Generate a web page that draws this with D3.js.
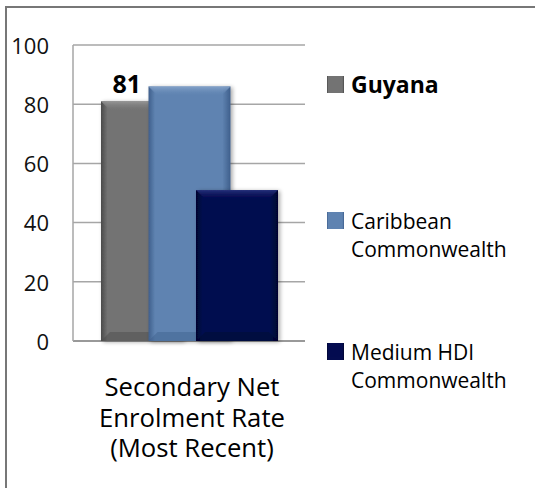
<!DOCTYPE html>
<html><head><meta charset="utf-8">
<script src="https://cdn.jsdelivr.net/npm/d3@7"></script>
<style>
html,body{margin:0;padding:0;background:#fff;}
svg{display:block;font-family:"Open Sans",sans-serif;}
</style></head>
<body><svg id="c" width="535" height="488"></svg>
<script>
const categories = ["Secondary Net Enrolment Rate (Most Recent)"];
const categoryLines = ["Secondary Net", "Enrolment Rate", "(Most Recent)"];
const seriesNames = ["Guyana", "Caribbean Commonwealth", "Medium HDI Commonwealth"];
const legendLines = [["Guyana"], ["Caribbean", "Commonwealth"], ["Medium HDI", "Commonwealth"]];
const values = [81, 86, 51];
const dataLabels = ["81", null, null];
const yTicks = [0, 20, 40, 60, 80, 100];
const colors = ["#737373", "#5f83b1", "#040c50"];
const darks = ["#4a4a4a", "#3f5f8c", "#01052e"];
const lights = ["#9a9a9a", "#88a6cc", "#2a3580"];

const svg = d3.select("#c");
const defs = svg.append("defs");

// frame
svg.append("path").attr("d","M6,488 V7 H535").attr("fill","none").attr("stroke","#777").attr("stroke-width",2);

const y = d3.scaleLinear().domain([0,100]).range([341,45]);
const plotLeft = 73, plotRight = 305;
const xs = d3.scaleBand().domain(seriesNames).range([101, 101 + 3*47.5]).padding(0);
const barW = 82;

// gridlines
svg.append("g").selectAll("line").data(yTicks).join("line")
  .attr("x1",plotLeft).attr("x2",plotRight)
  .attr("y1",d=>y(d)).attr("y2",d=>y(d))
  .attr("stroke",d=>d===0?"#999":"#a6a6a6").attr("stroke-width",d=>d===0?2:1.5);
svg.append("line").attr("x1",plotLeft).attr("x2",plotLeft).attr("y1",y(100)).attr("y2",y(0))
  .attr("stroke","#a6a6a6").attr("stroke-width",1.5);

// axis labels
const yAxis = d3.axisLeft(y).tickValues(yTicks).tickSize(0).tickPadding(0);
const ga = svg.append("g").attr("transform","translate(49,0)").call(yAxis);
ga.select(".domain").remove();
ga.selectAll("text").attr("font-family","'Open Sans',sans-serif").attr("font-size",22).attr("fill","#111").attr("dy","0.38em").attr("text-anchor","end");

// gradients
seriesNames.forEach((s,i)=>{
  const g = defs.append("linearGradient").attr("id","gh"+i).attr("x1","0").attr("x2","1").attr("y1","0").attr("y2","0");
  g.append("stop").attr("offset","0").attr("stop-color",darks[i]);
  g.append("stop").attr("offset","0.08").attr("stop-color",colors[i]);
  g.append("stop").attr("offset","0.9").attr("stop-color",colors[i]);
  g.append("stop").attr("offset","1").attr("stop-color",darks[i]);
  const t = defs.append("linearGradient").attr("id","gt"+i).attr("x1","0").attr("x2","0").attr("y1","0").attr("y2","1");
  t.append("stop").attr("offset","0").attr("stop-color",lights[i]).attr("stop-opacity",0.9);
  t.append("stop").attr("offset","1").attr("stop-color",colors[i]).attr("stop-opacity",0.2);
});

// shadow filter
const f = defs.append("filter").attr("id","sh").attr("x","-20%").attr("y","-20%").attr("width","140%").attr("height","140%");
f.append("feGaussianBlur").attr("in","SourceAlpha").attr("stdDeviation",2);
f.append("feOffset").attr("dx",2).attr("dy",1).attr("result","b");
const fm = f.append("feComponentTransfer"); fm.append("feFuncA").attr("type","linear").attr("slope",0.35);
const mg = f.append("feMerge"); mg.append("feMergeNode"); mg.append("feMergeNode").attr("in","SourceGraphic");

const bars = svg.append("g");
seriesNames.forEach((s,i)=>{
  const x0 = xs(s), x1 = x0 + barW, yt = y(values[i]), yb = y(0);
  const g = bars.append("g").attr("filter","url(#sh)");
  g.append("rect").attr("x",x0).attr("y",yt).attr("width",barW).attr("height",yb-yt).attr("fill","url(#gh"+i+")");
  const b = 9;
  g.append("path").attr("d",`M${x0},${yt} L${x1},${yt} L${x1-b},${yt+b} L${x0+b},${yt+b} Z`).attr("fill","url(#gt"+i+")");
  g.append("path").attr("d",`M${x0},${yb} L${x1},${yb} L${x1-b},${yb-b} L${x0+b},${yb-b} Z`).attr("fill",darks[i]).attr("opacity",0.45);
});

// data label
seriesNames.forEach((s,i)=>{
  if(dataLabels[i]) svg.append("text").attr("x",xs(s)+xs.bandwidth()/2+2).attr("y",y(values[i])-8)
    .attr("text-anchor","middle").attr("font-weight","bold").attr("font-size",25).attr("fill","#000").text(dataLabels[i]);
});

// category label
const cx = (plotLeft+plotRight)/2+3;
const ct = svg.append("text").attr("x",cx).attr("y",396).attr("text-anchor","middle")
  .attr("font-size",25.7).attr("fill","#000");
categoryLines.forEach((l,k)=>ct.append("tspan").attr("x",cx).attr("dy",k?30.5:0).text(l));

// legend
const legY = [76, 212, 343];
seriesNames.forEach((s,i)=>{
  const g = svg.append("g");
  g.append("rect").attr("x",327).attr("y",legY[i]).attr("width",17).attr("height",17).attr("fill","url(#gh"+i+")");
  g.append("rect").attr("x",330).attr("y",legY[i]+3).attr("width",11).attr("height",11).attr("fill",colors[i]).attr("opacity",0.6);
  const t = g.append("text").attr("x",351).attr("y",legY[i]+17).attr("fill","#000")
    .attr("font-size",i===0?23:21).attr("font-weight",i===0?"bold":"normal");
  legendLines[i].forEach((l,k)=>t.append("tspan").attr("x",351).attr("dy",k?27.5:0).text(l));
});
</script></body></html>
